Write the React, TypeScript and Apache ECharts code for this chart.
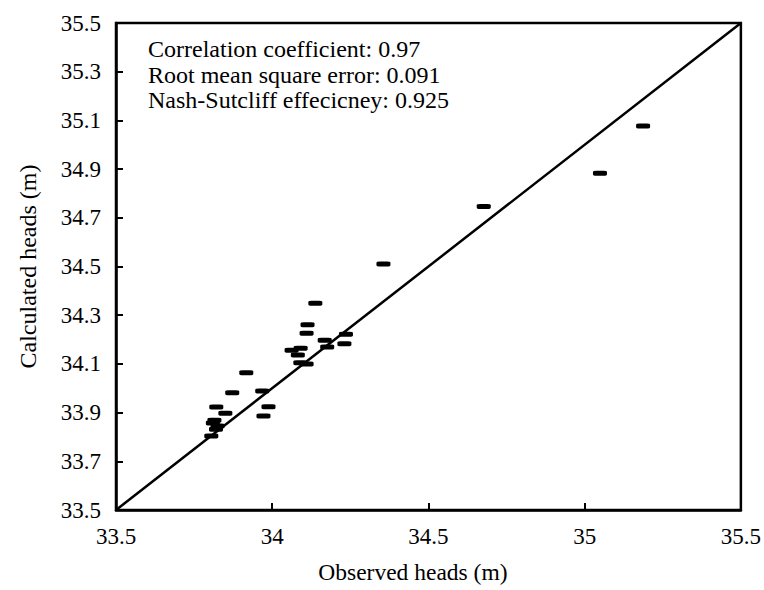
import React, { useEffect, useRef } from "react";
import * as echarts from "echarts";

const observed = [
  34.138, 34.113, 34.110, 34.236, 34.168, 34.176, 34.231, 34.062, 34.091, 34.082,
  34.090, 34.110, 33.917, 33.872, 33.968, 33.988, 33.972, 33.821, 33.850, 33.815,
  33.810, 33.825, 33.820, 33.805, 34.356, 34.677, 35.049, 35.187,
];
const calculated = [
  34.349, 34.261, 34.226, 34.222, 34.197, 34.169, 34.183, 34.156, 34.164, 34.137,
  34.105, 34.100, 34.064, 33.982, 33.989, 33.924, 33.886, 33.923, 33.897, 33.869,
  33.857, 33.845, 33.832, 33.804, 34.510, 34.746, 34.883, 35.077,
];
const xTicks = [33.5, 34, 34.5, 35, 35.5];
const yTicks = [33.5, 33.7, 33.9, 34.1, 34.3, 34.5, 34.7, 34.9, 35.1, 35.3, 35.5];
const oneToOne = [33.5, 35.5];
const statLines = [
  "Correlation coefficient: 0.97",
  "Root mean square error: 0.091",
  "Nash-Sutcliff effecicney: 0.925",
];

const FONT = "'Liberation Serif', 'Times New Roman', serif";

export default function App() {
  const ref = useRef<HTMLDivElement>(null);
  useEffect(() => {
    if (!ref.current) return;
    const chart = echarts.init(ref.current, undefined, { renderer: "svg" });
    const pts = observed.map((x, i) => [x, calculated[i]]);
    chart.setOption({
      animation: false,
      backgroundColor: "#fff",
      textStyle: { fontFamily: FONT },
      grid: {
        left: 116,
        top: 23,
        width: 627,
        height: 487,
        show: true,
        borderColor: "#000",
        borderWidth: 2.5,
      },
      xAxis: {
        type: "value",
        min: 33.5,
        max: 35.5,
        interval: 0.5,
        name: "Observed heads (m)",
        nameLocation: "middle",
        nameGap: 50,
        nameTextStyle: { fontFamily: FONT, fontSize: 23.5, color: "#000", padding: [0, 31, 0, 0] },
        axisLine: { show: true, lineStyle: { color: "#000", width: 2.5 } },
        axisTick: { show: true, inside: true, length: 7, customValues: xTicks, lineStyle: { color: "#000", width: 2 } },
        axisLabel: {
          customValues: xTicks,
          fontFamily: FONT,
          fontSize: 23,
          color: "#000",
          margin: 15,
          formatter: (v: number) => String(v),
        },
        splitLine: { show: false },
      },
      yAxis: {
        type: "value",
        min: 33.5,
        max: 35.5,
        name: "Calculated heads (m)",
        nameLocation: "middle",
        nameGap: 76,
        nameTextStyle: { fontFamily: FONT, fontSize: 24, color: "#000" },
        axisLine: { show: true, lineStyle: { color: "#000", width: 2.5 } },
        axisTick: { show: true, inside: true, length: 7, customValues: yTicks, lineStyle: { color: "#000", width: 2 } },
        axisLabel: {
          customValues: yTicks,
          fontFamily: FONT,
          fontSize: 23,
          color: "#000",
          margin: 15,
          formatter: (v: number) => v.toFixed(1),
        },
        splitLine: { show: false },
      },
      graphic: statLines.map((t, i) => ({
        type: "text",
        left: 148,
        top: 37 + i * 25.5,
        style: { text: t, fontFamily: FONT, fontSize: 24, fill: "#000" },
      })),
      series: [
        {
          type: "line",
          data: oneToOne.map((v) => [v, v]),
          symbol: "none",
          lineStyle: { color: "#000", width: 2.5 },
          z: 2,
        },
        {
          type: "scatter",
          data: pts,
          symbol: "roundRect",
          symbolSize: [14, 5],
          itemStyle: { color: "#000", opacity: 1 },
          z: 3,
        },
      ],
    });
    return () => chart.dispose();
  }, []);
  return (
    <div
      ref={ref}
      style={{ position: "fixed", left: 0, top: 0, width: 764, height: 590 }}
    />
  );
}
